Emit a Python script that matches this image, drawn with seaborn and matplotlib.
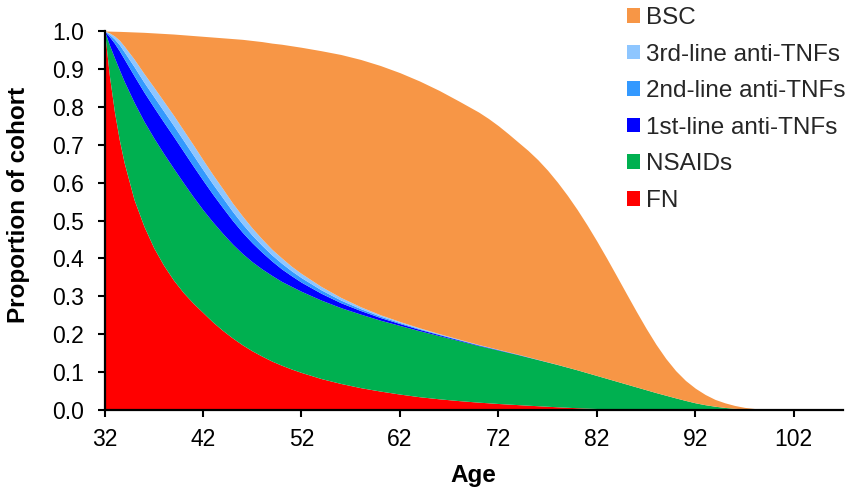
import matplotlib
matplotlib.use("Agg")
import matplotlib.pyplot as plt
import seaborn as sns

# ---- data ----
ages = [32, 32.5, 33, 33.5, 34,
        35, 36, 37, 38, 39, 40, 41, 42, 43, 44, 45, 46, 47, 48, 49, 50, 51, 52,
        54, 56, 58, 60, 62, 64, 66, 68,
        70, 71, 72, 73, 74, 75, 76, 77, 78, 79, 80, 81, 82, 83, 84, 85, 86, 87, 88, 89,
        90, 91, 92, 93, 94, 95, 96, 97, 98, 99, 100, 101, 102,
        104, 107]

fn = [1.0, 0.881, 0.788, 0.713, 0.652,
      0.555, 0.485, 0.428, 0.382, 0.343, 0.31, 0.282, 0.257, 0.232, 0.21, 0.19, 0.172,
      0.156, 0.142, 0.129, 0.118, 0.108, 0.099,
      0.083, 0.07, 0.059, 0.05, 0.042, 0.035, 0.0295, 0.0248,
      0.0207, 0.019, 0.0172, 0.0157, 0.0142, 0.0127, 0.0113, 0.0099, 0.0085, 0.0072,
      0.006, 0.005, 0.004, 0.0032, 0.0025, 0.002, 0.0015, 0.0011, 0.0008, 0.0006,
      0.0004, 0.0003, 0.0002, 0.00015, 0.0001, 0, 0, 0, 0, 0, 0, 0, 0,
      0, 0]

nsaids = [0, 0.082, 0.142, 0.185, 0.215,
          0.257, 0.277, 0.29, 0.295, 0.295, 0.29, 0.281, 0.271, 0.264, 0.256, 0.248,
          0.241, 0.235, 0.23, 0.226, 0.221, 0.218, 0.214,
          0.207, 0.2, 0.194, 0.187, 0.181, 0.174, 0.1665, 0.1582,
          0.1493, 0.145, 0.1408, 0.1363, 0.1318, 0.1268, 0.1217, 0.1166, 0.1115, 0.1058,
          0.1, 0.0935, 0.087, 0.0803, 0.0735, 0.0665, 0.0595, 0.0524, 0.0452, 0.0384,
          0.0316, 0.025, 0.0188, 0.01385, 0.0099, 0.0068, 0.0045, 0.0028, 0.0015, 0.0008,
          0.0003, 0.0001, 0,
          0, 0]

first_line = [0, 0.022, 0.038, 0.05, 0.059,
              0.07, 0.077, 0.081, 0.083, 0.084, 0.083, 0.081, 0.078, 0.073, 0.068, 0.062,
              0.056, 0.05, 0.044, 0.038, 0.033, 0.028, 0.024,
              0.018, 0.013, 0.0095, 0.007, 0.005, 0.0037, 0.0027, 0.002,
              0.0014, 0.0012, 0.001, 0.0008, 0.0006, 0.00045, 0.0003, 0.0002, 0.0001, 0.00005,
              0, 0, 0, 0, 0, 0, 0, 0, 0, 0, 0, 0, 0, 0, 0, 0, 0, 0, 0, 0, 0, 0, 0,
              0, 0]

second_line = [0, 0.006, 0.011, 0.016, 0.019,
               0.024, 0.026, 0.028, 0.029, 0.029, 0.029, 0.029, 0.028, 0.027, 0.026, 0.024,
               0.022, 0.02, 0.018, 0.016, 0.015, 0.013, 0.012,
               0.009, 0.007, 0.005, 0.0037, 0.0027, 0.002, 0.0014, 0.001,
               0.0007, 0.0006, 0.0005, 0.0004, 0.0003, 0.00025, 0.0002, 0.00015, 0.0001, 0.00005,
               0, 0, 0, 0, 0, 0, 0, 0, 0, 0, 0, 0, 0, 0, 0, 0, 0, 0, 0, 0, 0, 0, 0,
               0, 0]

third_line = [0, 0.004, 0.008, 0.012, 0.015,
              0.02, 0.023, 0.025, 0.026, 0.027, 0.027, 0.027, 0.026, 0.025, 0.024, 0.022,
              0.021, 0.019, 0.017, 0.015, 0.014, 0.012, 0.011,
              0.009, 0.007, 0.005, 0.0037, 0.0027, 0.002, 0.0014, 0.001,
              0.0007, 0.0006, 0.0005, 0.0004, 0.0003, 0.00025, 0.0002, 0.00015, 0.0001, 0.00005,
              0, 0, 0, 0, 0, 0, 0, 0, 0, 0, 0, 0, 0, 0, 0, 0, 0, 0, 0, 0, 0, 0, 0,
              0, 0]

bsc = [0, 0.0047, 0.0123, 0.023, 0.0385,
       0.0715, 0.1085, 0.143, 0.1785, 0.214, 0.251, 0.288, 0.326, 0.363, 0.398, 0.434,
       0.466, 0.495, 0.521, 0.544, 0.564, 0.582, 0.597,
       0.622, 0.641, 0.6525, 0.6576, 0.6566, 0.6513, 0.6415, 0.628,
       0.6132, 0.6026, 0.59, 0.5754, 0.5598, 0.5446, 0.5268, 0.5055, 0.4807, 0.4534,
       0.423, 0.39, 0.3545, 0.317, 0.278, 0.2385, 0.1995, 0.162, 0.1275, 0.097,
       0.072, 0.0527, 0.0385, 0.027, 0.018, 0.0122, 0.0075, 0.0042, 0.0025, 0.0012,
       0.0007, 0.0003, 0.0001,
       0, 0]

labels = ["FN", "NSAIDs", "1st-line anti-TNFs", "2nd-line anti-TNFs", "3rd-line anti-TNFs", "BSC"]
colors = ["#FF0000", "#00B050", "#0000FF", "#3399FF", "#8EC6FF", "#F79646"]
x_ticks = [32, 42, 52, 62, 72, 82, 92, 102]
y_ticks = [0.0, 0.1, 0.2, 0.3, 0.4, 0.5, 0.6, 0.7, 0.8, 0.9, 1.0]

# ---- style ----
sns.set_theme(style="ticks")
plt.rcParams["font.family"] = ["Liberation Sans", "DejaVu Sans"]

fig = plt.figure(figsize=(8.47, 4.88), dpi=100)
ax = fig.add_axes([0.1234, 0.1598, 0.8719, 0.7767])

ax.stackplot(ages, fn, nsaids, first_line, second_line, third_line, bsc,
             colors=colors, labels=labels, linewidth=0)

ax.set_xlim(32, 107)
ax.set_ylim(0, 1.0)
ax.set_xticks(x_ticks)
ax.set_yticks(y_ticks)
ax.set_yticklabels([f"{v:.1f}" for v in y_ticks])

for side in ["top", "right"]:
    ax.spines[side].set_visible(False)
for side in ["left", "bottom"]:
    ax.spines[side].set_linewidth(1.6)
    ax.spines[side].set_color("black")
ax.tick_params(axis="both", direction="out", length=5, width=1.5, colors="black",
               labelsize=16.5, labelcolor="black")
ax.tick_params(axis="y", pad=10)
ax.tick_params(axis="x", pad=8)

ax.set_xlabel("Age", fontsize=17.5, fontweight="bold", color="black", labelpad=9)
ax.set_ylabel("Proportion of cohort", fontsize=17.5, fontweight="bold", color="black")
ax.yaxis.set_label_coords(-0.101, 0.541)

handles, labs = ax.get_legend_handles_labels()
fig.legend(handles[::-1], labs[::-1], loc="upper left",
           bbox_to_anchor=(627 / 847, 1 - 7 / 488), frameon=False,
           fontsize=17.5, handlelength=0.54, handleheight=0.54,
           handletextpad=0.26, labelspacing=0.6, borderpad=0, borderaxespad=0)

fig.savefig("out.png", dpi=100)
